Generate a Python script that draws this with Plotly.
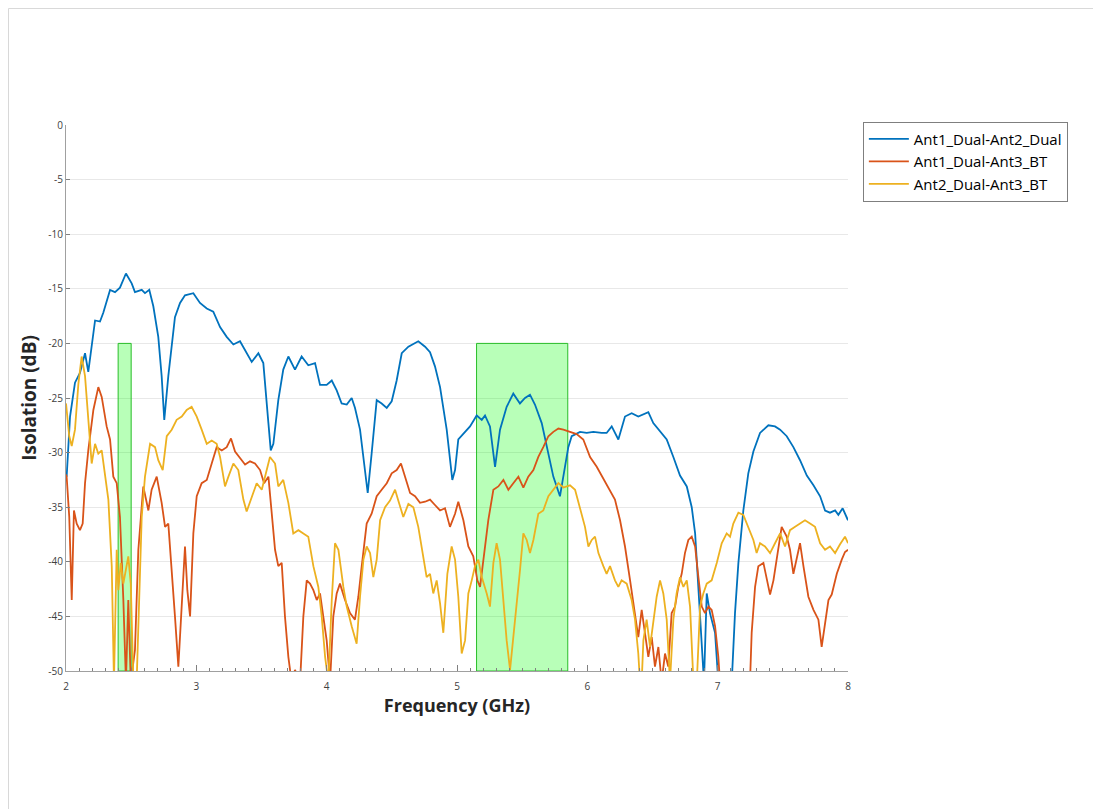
import plotly.graph_objects as go

# ---------------- data ----------------
series_names = ["Ant1_Dual-Ant2_Dual", "Ant1_Dual-Ant3_BT", "Ant2_Dual-Ant3_BT"]
series_colors = ["#0072BD", "#D95319", "#EDB120"]

# (frequency GHz, isolation dB); values below -50 run off the axis
ant1_ant2 = [
    (2.0, -32.0), (2.005, -32.2), (2.031, -26.7), (2.069, -23.6), (2.107, -22.7), (2.146, -20.9),
    (2.171, -22.6), (2.21, -19.1), (2.223, -17.9), (2.261, -18.0), (2.286, -17.2), (2.338, -15.1),
    (2.376, -15.3), (2.414, -14.9), (2.46, -13.6), (2.504, -14.5), (2.529, -15.3), (2.581, -15.1),
    (2.606, -15.4), (2.639, -15.1), (2.67, -16.6), (2.708, -19.4), (2.734, -23.0), (2.754, -27.0),
    (2.785, -23.0), (2.836, -17.6), (2.875, -16.3), (2.913, -15.6), (2.977, -15.4), (3.028, -16.3),
    (3.08, -16.8), (3.13, -17.1), (3.182, -18.5), (3.233, -19.4), (3.284, -20.1), (3.335, -19.8),
    (3.386, -20.9), (3.425, -21.7), (3.476, -20.9), (3.514, -21.8), (3.553, -27.3), (3.571, -29.8),
    (3.591, -29.2), (3.629, -25.2), (3.667, -22.4), (3.706, -21.2), (3.757, -22.4), (3.808, -21.2),
    (3.859, -22.0), (3.911, -21.8), (3.949, -23.8), (4.0, -23.8), (4.039, -23.4), (4.077, -24.3),
    (4.115, -25.5), (4.154, -25.6), (4.192, -25.0), (4.217, -25.9), (4.256, -27.9), (4.294, -31.6),
    (4.315, -33.7), (4.345, -30.1), (4.384, -25.2), (4.422, -25.5), (4.461, -25.9), (4.499, -25.3),
    (4.537, -23.4), (4.576, -20.9), (4.627, -20.3), (4.703, -19.8), (4.755, -20.3), (4.793, -20.8),
    (4.831, -22.1), (4.87, -24.0), (4.921, -27.9), (4.964, -32.5), (4.985, -31.6), (5.01, -28.8),
    (5.062, -28.1), (5.1, -27.6), (5.151, -26.6), (5.19, -27.0), (5.215, -26.6), (5.253, -27.6),
    (5.292, -31.3), (5.33, -27.9), (5.381, -25.8), (5.432, -24.6), (5.483, -25.5), (5.522, -25.0),
    (5.56, -24.7), (5.598, -25.6), (5.65, -27.3), (5.701, -30.1), (5.739, -32.2), (5.79, -34.0),
    (5.816, -32.2), (5.854, -29.5), (5.88, -28.5), (5.944, -28.1), (5.995, -28.2), (6.046, -28.1),
    (6.11, -28.2), (6.148, -28.2), (6.187, -27.6), (6.238, -28.8), (6.289, -26.7), (6.34, -26.4),
    (6.391, -26.7), (6.43, -26.5), (6.468, -26.3), (6.506, -27.3), (6.558, -28.1), (6.609, -28.8),
    (6.66, -30.4), (6.711, -32.1), (6.763, -33.1), (6.801, -35.0), (6.827, -37.4), (6.852, -42.9),
    (6.878, -48.4), (6.895, -51.0), (6.916, -42.9), (6.941, -44.7), (6.98, -46.5), (7.005, -51.0),
    (7.108, -51.0), (7.133, -44.7), (7.159, -40.1), (7.197, -35.3), (7.235, -31.9), (7.274, -29.9),
    (7.325, -28.2), (7.389, -27.5), (7.44, -27.6), (7.479, -27.9), (7.53, -28.5), (7.581, -29.5),
    (7.632, -30.7), (7.684, -32.1), (7.735, -33.0), (7.786, -34.0), (7.824, -35.3), (7.862, -35.5),
    (7.901, -35.3), (7.926, -35.7), (7.959, -35.1), (8.0, -36.2),
]

ant1_ant3 = [
    (2.0, -32.0), (2.005, -32.2), (2.025, -35.9), (2.044, -43.5), (2.061, -35.3), (2.082, -36.5),
    (2.107, -37.1), (2.128, -36.5), (2.146, -32.8), (2.171, -29.8), (2.21, -26.1), (2.248, -24.0),
    (2.274, -24.9), (2.312, -27.6), (2.338, -28.8), (2.363, -32.2), (2.389, -32.8), (2.414, -35.9),
    (2.44, -43.5), (2.46, -51.0), (2.478, -43.5), (2.497, -51.0), (2.529, -48.1), (2.555, -38.9),
    (2.593, -33.1), (2.632, -35.3), (2.657, -33.4), (2.696, -32.2), (2.734, -34.6), (2.76, -36.8),
    (2.785, -36.5), (2.811, -40.4), (2.836, -45.0), (2.862, -49.6), (2.888, -43.5), (2.913, -38.6),
    (2.931, -42.6), (2.952, -45.0), (2.977, -37.4), (3.003, -34.0), (3.041, -32.8), (3.08, -32.5),
    (3.118, -31.0), (3.156, -29.5), (3.195, -29.8), (3.233, -29.5), (3.266, -28.7), (3.297, -29.9),
    (3.335, -30.5), (3.374, -31.1), (3.412, -30.8), (3.45, -31.0), (3.489, -31.6), (3.52, -32.8),
    (3.553, -32.2), (3.578, -35.6), (3.604, -38.9), (3.629, -40.4), (3.655, -40.1), (3.68, -45.0),
    (3.706, -48.7), (3.731, -51.0), (3.757, -49.9), (3.796, -51.0), (3.821, -45.0), (3.847, -41.7),
    (3.872, -42.0), (3.898, -42.6), (3.924, -43.5), (3.949, -42.9), (3.975, -45.0), (4.0, -47.2),
    (4.026, -51.0), (4.051, -45.0), (4.077, -42.9), (4.102, -42.0), (4.141, -43.5), (4.179, -44.7),
    (4.217, -45.3), (4.243, -43.2), (4.269, -40.4), (4.307, -36.5), (4.345, -35.6), (4.384, -34.0),
    (4.422, -33.4), (4.461, -32.8), (4.499, -31.9), (4.537, -31.6), (4.57, -31.0), (4.601, -32.2),
    (4.64, -33.7), (4.678, -34.0), (4.716, -34.6), (4.755, -34.5), (4.793, -34.3), (4.831, -34.8),
    (4.87, -35.3), (4.908, -35.1), (4.946, -36.8), (4.985, -35.6), (5.01, -34.5), (5.049, -36.2),
    (5.087, -38.6), (5.125, -39.5), (5.156, -41.7), (5.177, -42.3), (5.202, -39.8), (5.24, -36.2),
    (5.279, -33.4), (5.317, -33.1), (5.356, -32.5), (5.394, -33.4), (5.432, -32.8), (5.471, -32.2),
    (5.509, -33.2), (5.547, -32.2), (5.586, -31.6), (5.624, -30.4), (5.662, -29.5), (5.701, -28.5),
    (5.739, -28.1), (5.778, -27.8), (5.816, -27.9), (5.867, -28.1), (5.918, -28.3), (5.969, -28.8),
    (6.021, -30.4), (6.072, -31.3), (6.123, -32.4), (6.174, -33.4), (6.212, -34.3), (6.251, -36.2),
    (6.289, -38.6), (6.328, -41.7), (6.366, -44.7), (6.391, -46.9), (6.417, -44.4), (6.442, -46.5),
    (6.468, -48.7), (6.494, -46.9), (6.519, -49.6), (6.545, -47.8), (6.57, -51.0), (6.596, -48.4),
    (6.621, -49.6), (6.647, -44.7), (6.673, -44.1), (6.698, -42.3), (6.724, -41.1), (6.749, -39.2),
    (6.775, -38.0), (6.801, -37.7), (6.827, -38.6), (6.852, -41.4), (6.878, -44.1), (6.903, -44.7),
    (6.929, -44.1), (6.954, -44.4), (6.98, -45.9), (7.005, -48.7), (7.018, -51.0), (7.248, -51.0),
    (7.261, -46.5), (7.287, -42.3), (7.312, -40.4), (7.351, -40.1), (7.376, -41.7), (7.402, -43.0),
    (7.428, -41.7), (7.466, -38.6), (7.491, -36.8), (7.53, -37.7), (7.555, -38.9), (7.581, -41.1),
    (7.607, -39.8), (7.632, -38.3), (7.658, -40.4), (7.696, -43.2), (7.735, -44.4), (7.773, -45.3),
    (7.798, -47.8), (7.824, -45.6), (7.85, -43.5), (7.875, -43.0), (7.914, -41.1), (7.952, -39.8),
    (7.977, -39.1), (8.0, -38.9),
]

ant2_ant3 = [
    (2.0, -25.5), (2.025, -28.5), (2.044, -29.4), (2.069, -27.9), (2.095, -23.7), (2.12, -21.2),
    (2.146, -23.0), (2.171, -26.7), (2.197, -31.0), (2.223, -29.2), (2.248, -30.1), (2.274, -29.8),
    (2.299, -32.2), (2.325, -34.3), (2.351, -40.4), (2.368, -51.0), (2.389, -38.9), (2.402, -42.6),
    (2.42, -40.1), (2.44, -42.0), (2.46, -40.7), (2.478, -39.5), (2.497, -42.0), (2.517, -51.0),
    (2.542, -51.0), (2.563, -43.5), (2.581, -35.9), (2.606, -32.2), (2.645, -29.2), (2.683, -29.5),
    (2.708, -30.7), (2.742, -31.6), (2.773, -28.5), (2.811, -27.9), (2.849, -27.0), (2.888, -26.7),
    (2.926, -26.1), (2.964, -25.8), (3.003, -26.7), (3.041, -27.9), (3.08, -29.2), (3.118, -28.9),
    (3.156, -29.2), (3.182, -30.4), (3.22, -33.1), (3.246, -32.2), (3.284, -31.0), (3.322, -31.6),
    (3.361, -34.3), (3.386, -35.4), (3.425, -34.0), (3.463, -32.8), (3.502, -33.4), (3.527, -32.2),
    (3.565, -30.4), (3.604, -31.0), (3.629, -33.1), (3.667, -32.5), (3.706, -34.6), (3.744, -37.4),
    (3.783, -37.1), (3.821, -37.4), (3.859, -37.7), (3.898, -40.4), (3.936, -42.3), (3.962, -45.0),
    (3.988, -48.7), (4.013, -51.0), (4.039, -43.5), (4.064, -38.3), (4.09, -38.9), (4.128, -42.3),
    (4.154, -44.1), (4.192, -45.9), (4.23, -47.5), (4.256, -43.2), (4.282, -39.8), (4.307, -38.6),
    (4.333, -39.2), (4.358, -41.4), (4.384, -39.8), (4.41, -36.2), (4.448, -35.0), (4.486, -34.4),
    (4.525, -33.4), (4.55, -34.4), (4.588, -35.9), (4.627, -34.7), (4.665, -35.0), (4.703, -36.8),
    (4.742, -39.5), (4.767, -41.4), (4.793, -41.1), (4.818, -42.9), (4.844, -41.7), (4.87, -43.8),
    (4.895, -46.5), (4.926, -41.1), (4.959, -38.6), (4.985, -39.8), (5.01, -43.2), (5.036, -48.4),
    (5.062, -47.2), (5.087, -42.9), (5.113, -41.7), (5.138, -40.4), (5.164, -39.8), (5.19, -41.4),
    (5.228, -42.9), (5.253, -44.1), (5.279, -40.1), (5.304, -38.3), (5.33, -39.8), (5.356, -43.8),
    (5.381, -47.2), (5.407, -49.9), (5.432, -46.9), (5.458, -44.4), (5.483, -40.8), (5.509, -37.4),
    (5.535, -38.0), (5.56, -39.2), (5.586, -38.0), (5.624, -35.6), (5.662, -35.3), (5.701, -34.0),
    (5.739, -33.4), (5.778, -32.8), (5.816, -33.2), (5.867, -33.0), (5.906, -33.4), (5.944, -35.0),
    (5.982, -36.8), (6.008, -38.6), (6.034, -38.0), (6.059, -37.7), (6.085, -39.2), (6.123, -40.4),
    (6.148, -41.1), (6.174, -40.4), (6.212, -41.7), (6.238, -42.3), (6.263, -41.7), (6.302, -42.0),
    (6.34, -43.5), (6.366, -45.3), (6.391, -48.4), (6.404, -51.0), (6.417, -51.0), (6.43, -47.2),
    (6.455, -45.3), (6.481, -47.8), (6.506, -45.3), (6.532, -43.2), (6.558, -41.7), (6.583, -42.9),
    (6.609, -45.3), (6.634, -51.0), (6.66, -45.3), (6.685, -42.9), (6.711, -41.4), (6.737, -42.3),
    (6.763, -41.7), (6.788, -44.1), (6.814, -51.0), (6.84, -51.0), (6.865, -44.1), (6.89, -42.9),
    (6.916, -42.0), (6.954, -41.7), (6.993, -40.1), (7.031, -38.3), (7.069, -37.4), (7.095, -37.7),
    (7.12, -36.5), (7.159, -35.5), (7.197, -35.7), (7.235, -36.8), (7.274, -38.0), (7.299, -39.2),
    (7.325, -38.3), (7.363, -38.6), (7.402, -39.2), (7.44, -38.3), (7.479, -37.4), (7.517, -38.6),
    (7.555, -37.1), (7.594, -36.8), (7.632, -36.5), (7.67, -36.2), (7.709, -36.5), (7.747, -36.8),
    (7.786, -38.3), (7.824, -38.9), (7.862, -38.6), (7.901, -39.2), (7.939, -38.4), (7.977, -37.7),
    (8.0, -38.3),
]

# target bands (GHz) and limit line (dB)
bands = [(2.4, 2.5), (5.15, 5.85)]
band_top, band_bottom = -20, -50

y_ticks = [0, -5, -10, -15, -20, -25, -30, -35, -40, -45, -50]
x_ticks = [2, 3, 4, 5, 6, 7, 8]

# ---------------- figure ----------------
fig = go.Figure()
for name, color, data in zip(series_names, series_colors, [ant1_ant2, ant1_ant3, ant2_ant3]):
    xs, ys = zip(*data)
    fig.add_trace(go.Scatter(x=list(xs), y=list(ys), mode="lines", name=name,
                             line=dict(color=color, width=1.8)))

for x0, x1 in bands:
    fig.add_shape(type="rect", xref="x", yref="y", x0=x0, x1=x1, y0=band_bottom, y1=band_top,
                  fillcolor="rgba(0,255,0,0.28)", line=dict(color="rgb(40,190,40)", width=1),
                  layer="between")

# window frame lines (figure edges)
fig.add_shape(type="line", xref="paper", yref="paper", x0=-0.0735, x1=1.33, y0=1.2134, y1=1.2134,
              line=dict(color="#d8d8d8", width=1))
fig.add_shape(type="line", xref="paper", yref="paper", x0=-0.0735, x1=-0.0735, y0=-0.26, y1=1.2134,
              line=dict(color="#d8d8d8", width=1))

tick_font = dict(family="Open Sans, sans-serif", size=10, color="#404040")

fig.update_layout(
    width=1093, height=801,
    margin=dict(l=58, r=253, t=117, b=138),
    paper_bgcolor="white", plot_bgcolor="white",
    showlegend=True,
    legend=dict(x=1.019, y=1.006, xanchor="left", yanchor="top",
                bordercolor="#7f7f7f", borderwidth=1, bgcolor="white",
                font=dict(family="Open Sans, sans-serif", size=15, color="#000000"),
                tracegroupgap=0, itemwidth=40),
)
fig.update_xaxes(
    range=[2, 8], tickvals=x_ticks, ticktext=[str(v) for v in x_ticks],
    showgrid=False, zeroline=False,
    showline=True, linecolor="#a0a0a0", linewidth=1,
    ticks="inside", ticklen=6, tickcolor="#808080",
    minor=dict(dtick=0.1, ticks="inside", ticklen=3, tickcolor="#808080", showgrid=False),
    tickfont=tick_font, ticklabelstandoff=6,
    title=dict(text="<b>Frequency (GHz)</b>",
               font=dict(family="Open Sans, sans-serif", size=18, color="#262626"), standoff=4),
)
fig.update_yaxes(
    range=[-50, 0], tickvals=y_ticks, ticktext=[str(v) for v in y_ticks],
    showgrid=True, gridcolor="#e8e8e8", gridwidth=1, zeroline=False,
    showline=True, linecolor="#a0a0a0", linewidth=1,
    ticks="inside", ticklen=4, tickcolor="#808080",
    tickfont=tick_font,
    title=dict(text="<b>Isolation (dB)</b>",
               font=dict(family="Open Sans, sans-serif", size=19, color="#262626"), standoff=6),
)

fig.write_html("out.html")
